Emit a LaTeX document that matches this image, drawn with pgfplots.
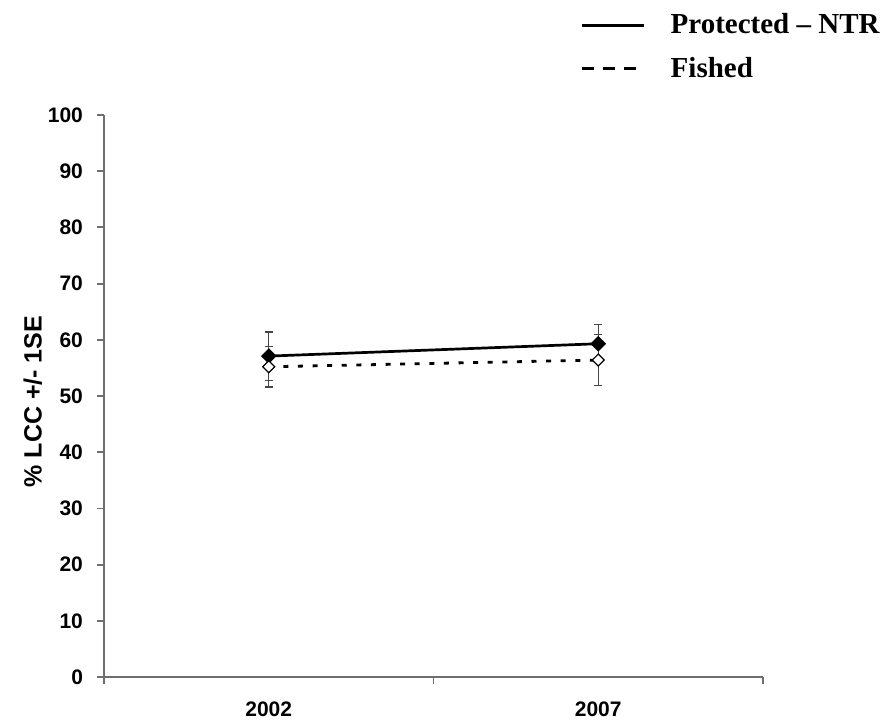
\documentclass[border=0pt]{standalone}
\usepackage{pgfplots}
\pgfplotsset{compat=1.18}
\usepackage{fontspec}
\setmainfont{Liberation Serif}
\newfontfamily\arialf{Liberation Sans}
\definecolor{axgray}{RGB}{110,110,110}
\definecolor{errgray}{RGB}{70,70,70}
\begin{document}
\begin{tikzpicture}
\path[use as bounding box] (-52pt,-23.5pt) rectangle (389pt,338.5pt);
\begin{axis}[
 scale only axis, width=329.5pt, height=281pt,
 xmin=0,xmax=2,ymin=0,ymax=100,
 axis x line=bottom, axis y line=left,
 axis line style={-, axgray, line width=0.9pt},
 tick style={axgray, line width=0.9pt},
 tick align=outside, major tick length=3.5pt,
 xtick={0,1,2}, xticklabels={2002,2007}, x tick label as interval,
 ytick={0,10,...,100},
 /pgf/number format/assume math mode=true,
 tick label style={font=\arialf\bfseries\fontsize{10.5}{12}\selectfont, black},
 yticklabel style={xshift=-3.5pt},
 xticklabel style={yshift=-5.5pt},
 ylabel={\% LCC +/- 1SE},
 ylabel style={font=\arialf\bfseries\fontsize{12.5}{14}\selectfont, at={(axis description cs:-0.108,0.49)}, anchor=center},
 legend style={draw=none, fill=none, at={(rel axis cs:1.1775,1.121)}, anchor=east,
   font=\bfseries\fontsize{14.5}{17}\selectfont, row sep=10pt, inner sep=0pt,
   nodes={inner sep=0pt}, /tikz/every odd column/.append style={column sep=12.5pt}},
 legend cell align=left,
 clip=false,
]
\addplot[black, line width=1.35pt, mark=square*, mark size=2.1pt, mark options={solid, rotate=45, fill=black},
  legend image code/.code={\draw[black, solid, line width=1.8pt] (0pt,0pt) -- (31pt,0pt);},
  error bars/.cd, y dir=both, y explicit,
  error bar style={errgray, line width=0.6pt, solid},
  error mark options={errgray, rotate=90, mark size=2pt, line width=0.6pt, solid}]
  coordinates {(0.5,57.1) +- (0,4.3) (1.5,59.3) +- (0,3.4)};
\addlegendentry{Protected – NTR}
\addplot[black, line width=1.4pt, dash pattern=on 2.5pt off 4.8pt, mark=square*, mark size=2.1pt,
  mark options={solid, rotate=45, fill=white, line width=0.6pt},
  legend image code/.code={\draw[black, line width=1.8pt, dash pattern=on 6pt off 4.5pt] (0pt,0pt) -- (31pt,0pt);},
  error bars/.cd, y dir=both, y explicit,
  error bar style={errgray, line width=0.6pt, solid},
  error mark options={errgray, rotate=90, mark size=2pt, line width=0.6pt, solid}]
  coordinates {(0.5,55.2) +- (0,3.6) (1.5,56.4) +- (0,4.6)};
\addlegendentry{Fished}
\end{axis}
\end{tikzpicture}
\end{document}
